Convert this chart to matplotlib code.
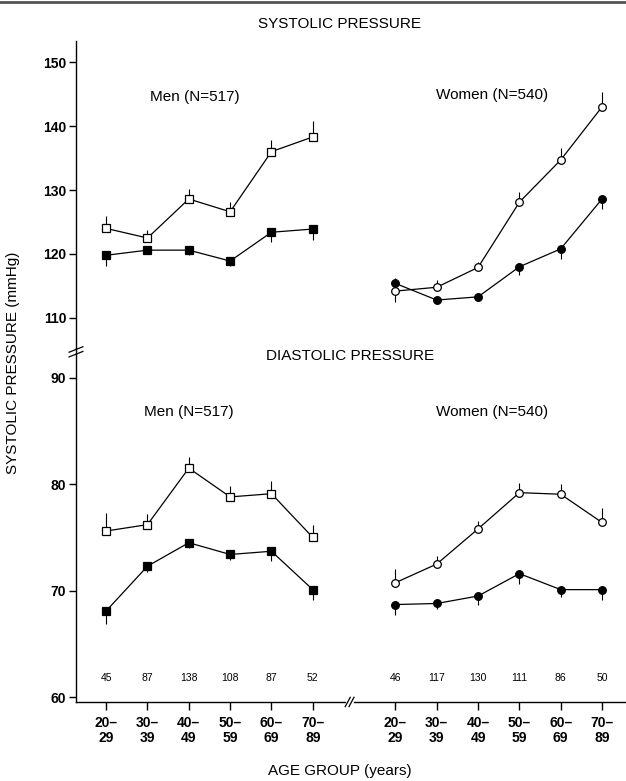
import matplotlib
matplotlib.use('Agg')
import matplotlib.pyplot as plt
from matplotlib.lines import Line2D
import numpy as np

plt.rcParams['font.family'] = ['Liberation Sans', 'DejaVu Sans']

# age groups and group sizes
age_labels = ['20–\n29', '30–\n39', '40–\n49', '50–\n59', '60–\n69', '70–\n89']
men_n = [45, 87, 138, 108, 87, 52]
women_n = [46, 117, 130, 111, 86, 50]

# systolic, men
men_sys_open = [124.0, 122.5, 128.6, 126.6, 136.0, 138.3]
men_sys_open_err = [2.0, 1.2, 1.5, 1.6, 1.9, 2.5]
men_sys_fill = [119.8, 120.6, 120.6, 118.9, 123.4, 123.9]
men_sys_fill_err = [1.6, 0.5, 0.8, 0.7, 1.6, 1.7]

# systolic, women
women_sys_open = [114.2, 114.8, 117.9, 128.1, 134.7, 143.0]
women_sys_open_err = [2.0, 1.1, 0.9, 1.6, 1.9, 2.3]
women_sys_fill = [115.4, 112.8, 113.3, 118.0, 120.8, 128.6]
women_sys_fill_err = [2.9, 0.5, 0.5, 1.3, 1.6, 1.5]

# diastolic, men
men_dia_open = [75.6, 76.2, 81.5, 78.8, 79.1, 75.0]
men_dia_open_err = [1.7, 1.0, 1.0, 1.05, 1.2, 1.15]
men_dia_fill = [68.1, 72.3, 74.5, 73.4, 73.7, 70.1]
men_dia_fill_err = [1.25, 0.5, 0.5, 0.5, 0.9, 1.0]

# diastolic, women
women_dia_open = [70.75, 72.5, 75.8, 79.2, 79.05, 76.4]
women_dia_open_err = [1.3, 0.8, 0.7, 0.9, 1.0, 1.35]
women_dia_fill = [68.7, 68.8, 69.5, 71.6, 70.1, 70.1]
women_dia_fill_err = [1.0, 0.55, 0.8, 1.0, 0.7, 1.0]

men_x = np.arange(6)
women_x = np.arange(6) + 7


def series(ax, x, vals, err, marker, filled, ms):
    zeros = [0] * len(err)
    yerr = [err, zeros] if filled else [zeros, err]
    ax.errorbar(x, vals, yerr=yerr, color='black', lw=0.9, elinewidth=0.8,
                capsize=0, marker=marker, ms=ms, mec='black', mew=0.9,
                mfc='black' if filled else 'white')


fig = plt.figure(figsize=(6.26, 7.81), dpi=100)
ax1 = fig.add_axes([0.1214, 0.5544, 0.8786, 0.3931])
ax2 = fig.add_axes([0.1214, 0.1012, 0.8786, 0.4532])

series(ax1, men_x, men_sys_open, men_sys_open_err, 's', False, 6)
series(ax1, men_x, men_sys_fill, men_sys_fill_err, 's', True, 6)
series(ax1, women_x, women_sys_open, women_sys_open_err, 'o', False, 5.5)
series(ax1, women_x, women_sys_fill, women_sys_fill_err, 'o', True, 5.5)

series(ax2, men_x, men_dia_open, men_dia_open_err, 's', False, 6)
series(ax2, men_x, men_dia_fill, men_dia_fill_err, 's', True, 6)
series(ax2, women_x, women_dia_open, women_dia_open_err, 'o', False, 5.5)
series(ax2, women_x, women_dia_fill, women_dia_fill_err, 'o', True, 5.5)

for x, n in zip(men_x, men_n):
    ax2.text(x, 61.8, str(n), ha='center', va='center', fontsize=7.5)
for x, n in zip(women_x, women_n):
    ax2.text(x, 61.8, str(n), ha='center', va='center', fontsize=7.5)

for ax in (ax1, ax2):
    ax.set_xlim(-0.73, 12.58)
    ax.patch.set_visible(False)
    ax.spines['top'].set_visible(False)
    ax.spines['right'].set_visible(False)
    ax.spines['left'].set_linewidth(1.0)
    ax.tick_params(axis='y', direction='out', length=5, width=1.0, pad=2, labelsize=10)

ax1.set_ylim(105.3, 153.3)
ax1.set_yticks([110, 120, 130, 140, 150])
ax1.spines['bottom'].set_visible(False)
ax1.set_xticks([])

ax2.set_ylim(59.56, 92.77)
ax2.set_yticks([60, 70, 80, 90])
ax2.spines['bottom'].set_linewidth(1.0)
ax2.set_xticks(list(men_x) + list(women_x))
ax2.set_xticklabels(age_labels + age_labels, fontsize=10, fontweight='bold',
                    linespacing=1.1)
ax2.tick_params(axis='x', direction='out', length=6, width=1.0, pad=4)

for lab in ax1.get_yticklabels() + ax2.get_yticklabels():
    lab.set_fontweight('bold')

# break marks on axes
yb = 0.5495
for dy in (-0.003, 0.003):
    fig.add_artist(Line2D([0.1214 - 0.011, 0.1214 + 0.011],
                          [yb + dy - 0.0035, yb + dy + 0.0035],
                          color='black', lw=0.9))
fig.add_artist(Line2D([0.5585 - 0.004, 0.5585 + 0.004], [0.1012, 0.1012],
                      color='white', lw=2))
for dx in (-0.003, 0.003):
    fig.add_artist(Line2D([0.5585 + dx - 0.004, 0.5585 + dx + 0.004],
                          [0.1012 - 0.006, 0.1012 + 0.006],
                          color='black', lw=0.9))

# scan edge at top
fig.add_artist(Line2D([0, 1], [0.998, 0.998], color='#555555', lw=2))

fs = 11
fig.text(340 / 626, 1 - 24 / 781, 'SYSTOLIC PRESSURE', ha='center', va='center', fontsize=fs)
fig.text(350 / 626, 1 - 356 / 781, 'DIASTOLIC PRESSURE', ha='center', va='center', fontsize=fs)
fig.text(195 / 626, 1 - 97 / 781, 'Men (N=517)', ha='center', va='center', fontsize=fs)
fig.text(492 / 626, 1 - 95 / 781, 'Women (N=540)', ha='center', va='center', fontsize=fs)
fig.text(189 / 626, 1 - 412 / 781, 'Men (N=517)', ha='center', va='center', fontsize=fs)
fig.text(492 / 626, 1 - 412 / 781, 'Women (N=540)', ha='center', va='center', fontsize=fs)
fig.text(13 / 626, 1 - 363 / 781, 'SYSTOLIC PRESSURE (mmHg)', ha='center', va='center',
         rotation=90, fontsize=fs)
fig.text(340 / 626, 1 - 771 / 781, 'AGE GROUP (years)', ha='center', va='center', fontsize=fs)

fig.savefig('out.png', dpi=100)
